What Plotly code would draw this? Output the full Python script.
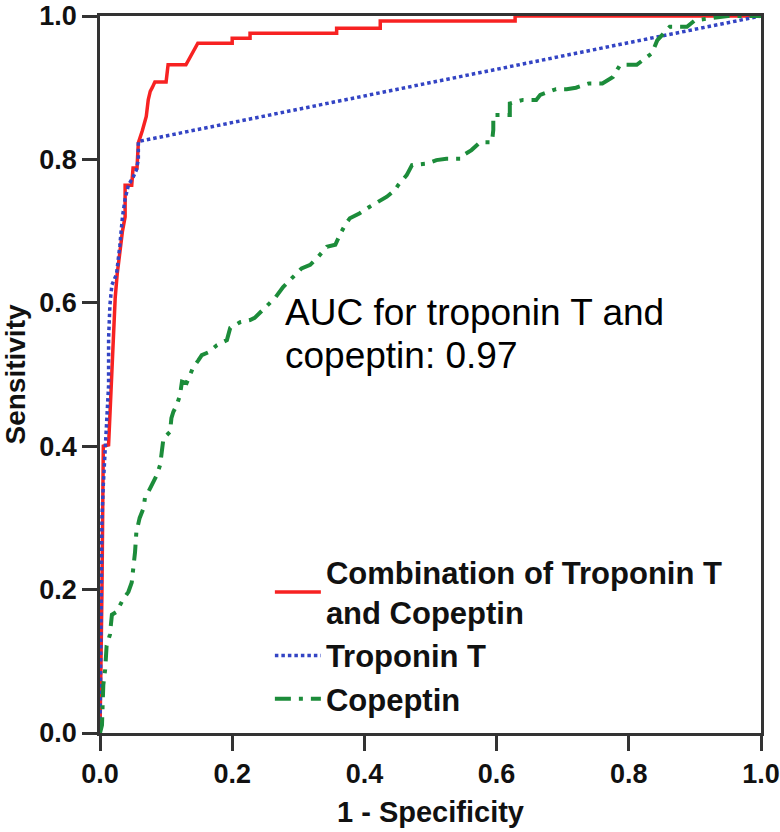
import plotly.graph_objects as go

# ---- data ----
combo_fpr = [0, 0.002, 0.003, 0.004, 0.005, 0.013, 0.015, 0.018, 0.02, 0.023, 0.026, 0.03, 0.034,
             0.038, 0.038, 0.048, 0.05, 0.056, 0.058, 0.064, 0.07, 0.073, 0.076, 0.079, 0.083,
             0.1, 0.103, 0.13, 0.135, 0.142, 0.148, 0.2, 0.2, 0.227, 0.227, 0.358, 0.358,
             0.424, 0.424, 0.628, 0.628, 1.0]
combo_sens = [0, 0.1, 0.2, 0.3, 0.4, 0.402, 0.44, 0.503, 0.555, 0.607, 0.64, 0.67, 0.7,
              0.72, 0.764, 0.764, 0.788, 0.788, 0.823, 0.84, 0.86, 0.883, 0.895, 0.9, 0.908,
              0.908, 0.932, 0.932, 0.94, 0.95, 0.962, 0.962, 0.969, 0.969, 0.976, 0.976, 0.983,
              0.983, 0.993, 0.993, 1.0, 1.0]

trop_fpr = [0, 0.001, 0.002, 0.003, 0.005, 0.008, 0.01, 0.013, 0.013, 0.015, 0.018, 0.025, 0.03,
            0.034, 0.038, 0.043, 0.05, 0.055, 0.058, 0.058, 1.0]
trop_sens = [0, 0.1, 0.2, 0.3, 0.346, 0.4, 0.43, 0.485, 0.55, 0.597, 0.625, 0.64, 0.68,
             0.72, 0.745, 0.764, 0.775, 0.785, 0.8, 0.825, 1.0]

cop_fpr = [0, 0.003, 0.005, 0.008, 0.01, 0.015, 0.018, 0.025, 0.033, 0.043, 0.048, 0.05, 0.053,
           0.055, 0.06, 0.066, 0.068, 0.073, 0.081, 0.086, 0.091, 0.093, 0.096, 0.106, 0.108,
           0.111, 0.116, 0.121, 0.124, 0.131, 0.134, 0.141, 0.149, 0.154, 0.164, 0.177, 0.192,
           0.197, 0.212, 0.227, 0.234, 0.242, 0.255, 0.265, 0.277, 0.292, 0.305, 0.318, 0.33,
           0.343, 0.356, 0.363, 0.371, 0.378, 0.393, 0.408, 0.419, 0.434, 0.446, 0.451, 0.464,
           0.472, 0.494, 0.509, 0.524, 0.547, 0.55, 0.562, 0.575, 0.593, 0.595, 0.595, 0.62,
           0.62, 0.64, 0.66, 0.666, 0.69, 0.706, 0.72, 0.74, 0.76, 0.776, 0.787, 0.812, 0.822,
           0.835, 0.843, 0.852, 0.862, 0.888, 0.9, 0.95, 1.0]
cop_sens = [0, 0.011, 0.067, 0.09, 0.122, 0.137, 0.165, 0.169, 0.183, 0.197, 0.21, 0.225, 0.252,
            0.28, 0.3, 0.314, 0.328, 0.336, 0.35, 0.36, 0.374, 0.392, 0.411, 0.42, 0.439,
            0.448, 0.457, 0.471, 0.49, 0.488, 0.495, 0.51, 0.52, 0.527, 0.531, 0.541, 0.548,
            0.565, 0.573, 0.576, 0.579, 0.586, 0.597, 0.607, 0.622, 0.636, 0.648, 0.653, 0.664,
            0.678, 0.681, 0.695, 0.709, 0.718, 0.725, 0.734, 0.74, 0.748, 0.757, 0.764, 0.778,
            0.792, 0.794, 0.799, 0.801, 0.801, 0.806, 0.813, 0.824, 0.824, 0.841, 0.862, 0.862,
            0.878, 0.883, 0.883, 0.89, 0.898, 0.898, 0.9, 0.906, 0.906, 0.915, 0.932, 0.932, 0.939,
            0.948, 0.966, 0.976, 0.985, 0.985, 0.994, 1.0, 1.0]

tick_vals = [0.0, 0.2, 0.4, 0.6, 0.8, 1.0]
tick_text = ["0.0", "0.2", "0.4", "0.6", "0.8", "1.0"]
series_names = ["Combination of Troponin T<br>and Copeptin", "Troponin T", "Copeptin"]
auc_lines = ["AUC for troponin T and", "copeptin: 0.97"]

FONT = "Liberation Sans, Arial, sans-serif"
AX = "#333333"

fig = go.Figure()
fig.add_trace(go.Scatter(x=combo_fpr, y=combo_sens, mode="lines", name=series_names[0],
                         line=dict(color="#F72222", width=3.5)))
fig.add_trace(go.Scatter(x=trop_fpr, y=trop_sens, mode="lines", name=series_names[1],
                         line=dict(color="#3344C4", width=3.5, dash="3.5px,3px")))
fig.add_trace(go.Scatter(x=cop_fpr, y=cop_sens, mode="lines", name=series_names[2],
                         line=dict(color="#1C8C3A", width=4, dash="16px,8px,4px,8px")))

axis_common = dict(
    range=[0, 1], tickvals=tick_vals, ticktext=tick_text,
    showgrid=False, zeroline=False, automargin=False,
    showline=True, linecolor=AX, linewidth=2.5, mirror=True,
    ticks="outside", ticklen=15, tickwidth=2.5, tickcolor=AX,
    tickfont=dict(family=FONT, size=27, color="#111111", weight="bold"),
)

fig.update_xaxes(**axis_common,
                 title=dict(text="1 - Specificity", standoff=14,
                            font=dict(family=FONT, size=29, color="#111111", weight="bold")))
fig.update_yaxes(**axis_common,
                 title=dict(text="Sensitivity", standoff=6,
                            font=dict(family=FONT, size=28, color="#111111", weight="bold")))

fig.add_annotation(x=0.277, y=0.586, xref="paper", yref="paper", text=auc_lines[0],
                   showarrow=False, xanchor="left", yanchor="middle",
                   font=dict(family=FONT, size=37, color="#000000"))
fig.add_annotation(x=0.277, y=0.527, xref="paper", yref="paper", text=auc_lines[1],
                   showarrow=False, xanchor="left", yanchor="middle",
                   font=dict(family=FONT, size=37, color="#000000"))

fig.update_layout(
    width=780, height=832,
    margin=dict(l=100, r=19, t=16, b=99),
    paper_bgcolor="white", plot_bgcolor="white",
    showlegend=True,
    legend=dict(x=0.257, y=0.262, xanchor="left", yanchor="top",
                bgcolor="rgba(0,0,0,0)", itemwidth=46, tracegroupgap=0,
                font=dict(family=FONT, size=31, color="#111111", weight="bold")),
)

fig.write_html("out.html")
